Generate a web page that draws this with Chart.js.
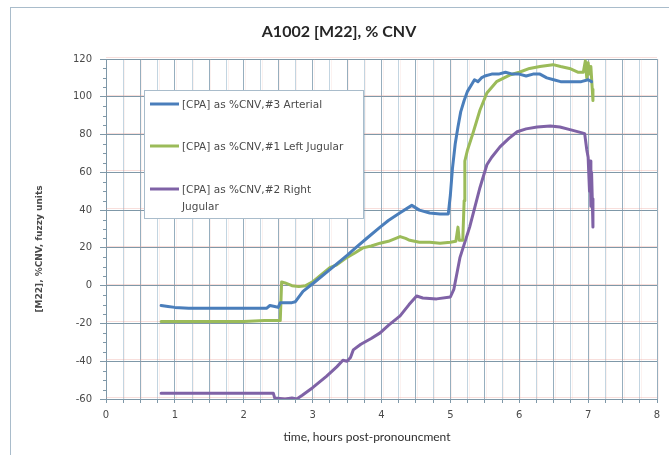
<!DOCTYPE html>
<html>
<head>
<meta charset="utf-8">
<script src="https://cdn.jsdelivr.net/npm/chart.js@4.4.1/dist/chart.umd.min.js"></script>
<style>
  html, body { margin: 0; padding: 0; background: #fff; overflow: hidden; }
  #wrap { position: relative; width: 669px; height: 455px; }
  #frame { position: absolute; left: 10px; top: 7px; width: 700px; height: 500px; border: 1px solid #a9bccb; box-sizing: border-box; }
  canvas { position: absolute; left: 0; top: 0; }
</style>
</head>
<body>
<div id="wrap">
  <div id="frame"></div>
  <canvas id="c" width="669" height="455"></canvas>
</div>
<script>
// ---- Data ----
const chartTitle = "A1002 [M22], % CNV";
const xAxisTitle = "time, hours post-pronouncment";
const yAxisTitle = "[M22], %CNV, fuzzy units";
const seriesLabels = ["[CPA] as %CNV,#3 Arterial", "[CPA] as %CNV,#1 Left Jugular", "[CPA] as %CNV,#2 Right Jugular"];
const seriesColors = ["#4a7ebb", "#9bbb59", "#7f62a6"];

const arterialHours = [0.8,0.9,1.0,1.2,1.5,1.8,2.0,2.2,2.33,2.38,2.45,2.5,2.53,2.6,2.7,2.75,2.86,3.0,3.25,3.5,3.64,3.8,3.98,4.1,4.27,4.44,4.55,4.7,4.85,4.97,5.0,5.03,5.07,5.11,5.15,5.2,5.25,5.3,5.35,5.4,5.45,5.5,5.6,5.7,5.8,5.9,6.0,6.1,6.2,6.3,6.4,6.5,6.6,6.7,6.8,6.9,7.0,7.05];
const arterialValues = [-10.5,-11,-11.5,-12,-12,-12,-12,-12,-12,-10.5,-11,-11.5,-9,-9,-9,-8.5,-3,1,8.5,16,20.5,25.5,31,34.5,38.6,42.5,40,38.5,38,38,48,62,75,84,92,98,103,106,109,108,110,111,112,112,113,112,112,111,112,112,110,109,108,108,108,108,109,108];

const leftJugularHours = [0.8,1.5,2.0,2.3,2.53,2.55,2.6,2.7,2.8,2.9,3.0,3.1,3.25,3.35,3.5,3.6,3.73,3.85,3.98,4.1,4.27,4.35,4.41,4.55,4.7,4.85,5.0,5.08,5.11,5.13,5.18,5.2,5.21,5.25,5.33,5.43,5.53,5.67,5.86,6.0,6.15,6.3,6.49,6.6,6.73,6.85,6.93,6.96,6.98,7.0,7.02,7.04,7.06,7.07];
const leftJugularValues = [-19,-19,-19,-18.5,-18.5,2,1.5,0,-0.5,0,2,5,9.5,11,15,17,20,21,22.5,23.5,26,25,24,23,23,22.5,23,23.5,31,24,24,45,66,72,81,93,102,108,111.5,113,115,116,117,116,115,113,113,119,110,118,112,116,104,98];

const rightJugularHours = [0.8,1.5,2.0,2.43,2.45,2.6,2.7,2.77,2.85,3.0,3.2,3.35,3.44,3.5,3.55,3.59,3.7,3.85,3.98,4.1,4.27,4.4,4.51,4.6,4.8,5.0,5.05,5.14,5.28,5.43,5.53,5.6,5.72,5.85,5.97,6.1,6.26,6.45,6.59,6.75,6.9,6.95,6.98,7.0,7.02,7.03,7.04,7.05,7.06,7.07];
const rightJugularValues = [-57,-57,-57,-57,-59.5,-60,-59.5,-60,-58,-54,-48,-43,-39.5,-40,-38,-34,-31,-28,-25,-21,-16,-10,-5.5,-6.5,-7,-6,-2,15,31,52,64,68,73.5,78,81.5,83,84,84.5,84,82.5,81,80.5,72,68,50,66,42,60,46,31];

const xMin = 0, xMax = 8, xGridStep = 0.25;
const yMin = -60, yMax = 120, yStep = 20, yMinorStep = 5;

function pts(xs, ys) { return xs.map((x, i) => ({ x: x, y: ys[i] })); }

const TICK_FONT = { family: "'DejaVu Sans', sans-serif", size: 10 };
const TEXT_COLOR = "#4a4a4a";

// faint pink fringe lines + minor ticks + legend + titles
const gridExtras = {
  id: 'gridExtras',
  beforeDatasetsDraw(chart) {
    const { ctx, chartArea: a, scales: { x, y } } = chart;
    ctx.save();
    ctx.lineWidth = 1;
    ctx.strokeStyle = 'rgba(232,150,140,0.3)';
    for (let v = yMin; v <= yMax; v += yStep) {
      const py = Math.round(y.getPixelForValue(v)) - 1.5;
      ctx.beginPath(); ctx.moveTo(a.left, py); ctx.lineTo(a.right, py); ctx.stroke();
    }
    ctx.strokeStyle = 'rgba(232,165,155,0.15)';
    for (let v = xMin + xGridStep; v <= xMax; v += xGridStep) {
      const px = Math.round(x.getPixelForValue(v)) + 1.5;
      ctx.beginPath(); ctx.moveTo(px, a.top); ctx.lineTo(px, a.bottom); ctx.stroke();
    }
    // minor y ticks
    ctx.strokeStyle = '#7f98a8';
    for (let v = yMin; v <= yMax; v += yMinorStep) {
      if (v % yStep === 0) continue;
      const py = Math.round(y.getPixelForValue(v)) + 0.5;
      ctx.beginPath(); ctx.moveTo(a.left - 3, py); ctx.lineTo(a.left, py); ctx.stroke();
    }
    ctx.restore();
  },
  afterDatasetsDraw(chart) {
    const { ctx } = chart;
    ctx.save();
    // chart title
    ctx.fillStyle = '#262626';
    ctx.font = "bold 16px Lato, 'Open Sans', sans-serif";
    ctx.textAlign = 'center';
    ctx.textBaseline = 'middle';
    ctx.fillText(chartTitle, 339, 32);
    // x-axis title
    ctx.fillStyle = '#2e2e2e';
    ctx.font = "12px Lato, 'Open Sans', sans-serif";
    ctx.fillText(xAxisTitle, 367, 437);
    // legend box
    const bx = 144.5, by = 90.5, bw = 219, bh = 128;
    ctx.fillStyle = '#ffffff';
    ctx.fillRect(bx, by, bw, bh);
    ctx.strokeStyle = '#a9bccb';
    ctx.lineWidth = 1;
    ctx.strokeRect(bx, by, bw, bh);
    const rows = [104, 146, 189];
    ctx.font = "10.5px 'DejaVu Sans', sans-serif";
    ctx.textBaseline = 'middle';
    ctx.textAlign = 'left';
    chart.data.datasets.forEach((ds, i) => {
      ctx.strokeStyle = ds.borderColor;
      ctx.lineWidth = 3;
      ctx.beginPath(); ctx.moveTo(150, rows[i]); ctx.lineTo(179, rows[i]); ctx.stroke();
      ctx.fillStyle = TEXT_COLOR;
      if (i === 2) {
        const parts = ds.label.split(' ');
        const last = parts.pop();
        ctx.fillText(parts.join(' '), 182, rows[i] + 1);
        ctx.fillText(last, 182, rows[i] + 18);
      } else {
        ctx.fillText(ds.label, 182, rows[i] + 1);
      }
    });
    // y-axis title
    ctx.translate(40, 249);
    ctx.rotate(-Math.PI / 2);
    ctx.font = "bold 9px 'DejaVu Sans', sans-serif";
    ctx.textAlign = 'center';
    ctx.fillStyle = TEXT_COLOR;
    ctx.fillText(yAxisTitle, 0, 0);
    ctx.restore();
  }
};

new Chart(document.getElementById('c'), {
  type: 'line',
  data: {
    datasets: [
      { label: seriesLabels[0], data: pts(arterialHours, arterialValues), borderColor: seriesColors[0] },
      { label: seriesLabels[1], data: pts(leftJugularHours, leftJugularValues), borderColor: seriesColors[1] },
      { label: seriesLabels[2], data: pts(rightJugularHours, rightJugularValues), borderColor: seriesColors[2] }
    ]
  },
  options: {
    responsive: false,
    animation: false,
    devicePixelRatio: 1,
    layout: { padding: { left: 0, right: 12, top: 59, bottom: 0 } },
    elements: {
      line: { borderWidth: 3, tension: 0, fill: false, borderCapStyle: 'round', borderJoinStyle: 'round' },
      point: { radius: 0, hoverRadius: 0 }
    },
    plugins: {
      legend: { display: false },
      tooltip: { enabled: false },
      title: { display: false }
    },
    scales: {
      x: {
        type: 'linear',
        min: xMin, max: xMax,
        afterFit: s => { s.height = 56; },
        ticks: {
          stepSize: xGridStep,
          autoSkip: false,
          maxRotation: 0,
          padding: 6,
          color: TEXT_COLOR,
          font: TICK_FONT,
          callback: v => (Number.isInteger(v) ? String(v) : '')
        },
        grid: {
          color: c => (Number.isInteger(c.tick.value * 2) ? '#96aebe' : '#c3d5e1'),
          tickColor: '#7f98a8',
          tickLength: 4,
          lineWidth: 1
        },
        border: { color: '#7f98a8', width: 1 },
        title: { display: false }
      },
      y: {
        type: 'linear',
        min: yMin, max: yMax,
        afterFit: s => { s.width = 106; },
        ticks: {
          stepSize: yStep,
          padding: 8,
          color: TEXT_COLOR,
          font: TICK_FONT
        },
        grid: {
          color: '#7f98a8',
          tickColor: '#7f98a8',
          tickLength: 6,
          lineWidth: 1
        },
        border: { color: '#7f98a8', width: 1 }
      }
    }
  },
  plugins: [gridExtras]
});
</script>
</body>
</html>
